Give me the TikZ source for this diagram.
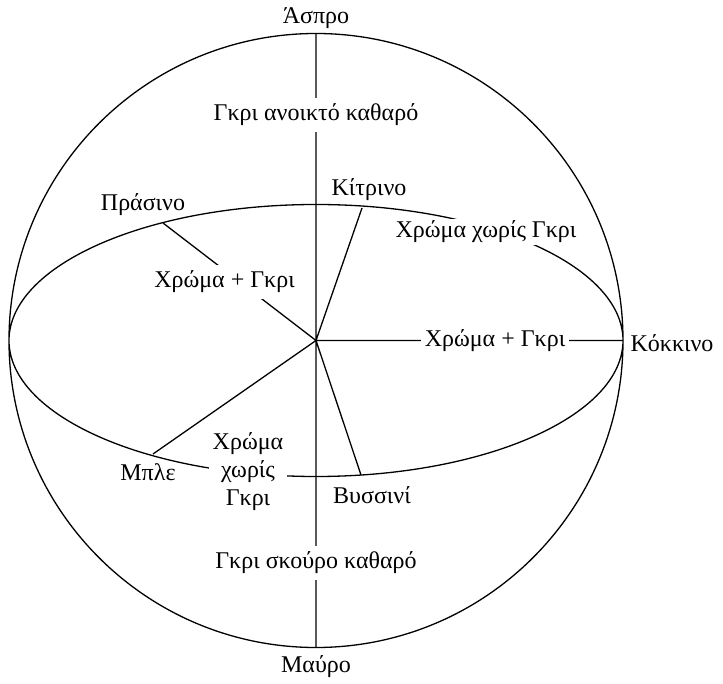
\documentclass[tikz,border=0pt]{standalone}
\usepackage{fontspec}
\setmainfont{Liberation Serif}
\begin{document}
\begin{tikzpicture}[x=1pt,y=1pt,line width=1.3pt,
  every node/.style={font=\fontsize{24}{28}\selectfont},
  lbl/.style={fill=white,inner xsep=4pt,inner ysep=6pt}]
\useasboundingbox(-316,-343.5)rectangle(407,340.5);
\coordinate(O)at(0,0);
\coordinate(top)at(0,307);\coordinate(bot)at(0,-307);\coordinate(rgt)at(307,0);
\coordinate(gr)at(-153,117.5);\coordinate(ye)at(46,132.5);
\coordinate(bl)at(-163,-113.5);\coordinate(re)at(45,-134.5);
\draw(O)circle[radius=307pt](O)ellipse[x radius=307pt,y radius=136pt];
\draw(top)--(bot)(O)--(rgt)(O)--(gr)(O)--(ye)(O)--(bl)(O)--(re);
% labels on the lines
\node[lbl](light)at(0,225.5){Γκρι ανοικτό καθαρό};
\node[lbl](dark)at(0,-222.5){Γκρι σκούρο καθαρό};
\node[lbl](mixr)at(179,0){Χρώμα + Γκρι};
\node[lbl](mixl)at(-91.5,58.5){Χρώμα + Γκρι};
\node[lbl,inner ysep=2pt](purer)at(170,108.5){Χρώμα χωρίς Γκρι};
\node[lbl,inner ysep=0pt,align=center](purel)at(-68,-131.5){Χρώμα\\χωρίς\\Γκρι};
% colour names
\node(white)at(0,322.5){Άσπρο};
\node(black)at(0,-326.5){Μαύρο};
\node(red)at(356,-2.5){Κόκκινο};
\node(green)at(-173,135.5){Πράσινο};
\node(yellow)at(53,150.5){Κίτρινο};
\node(purple)at(56,-154.5){Βυσσινί};
\node(blue)at(-168,-131.5){Μπλε};
\end{tikzpicture}
\end{document}
